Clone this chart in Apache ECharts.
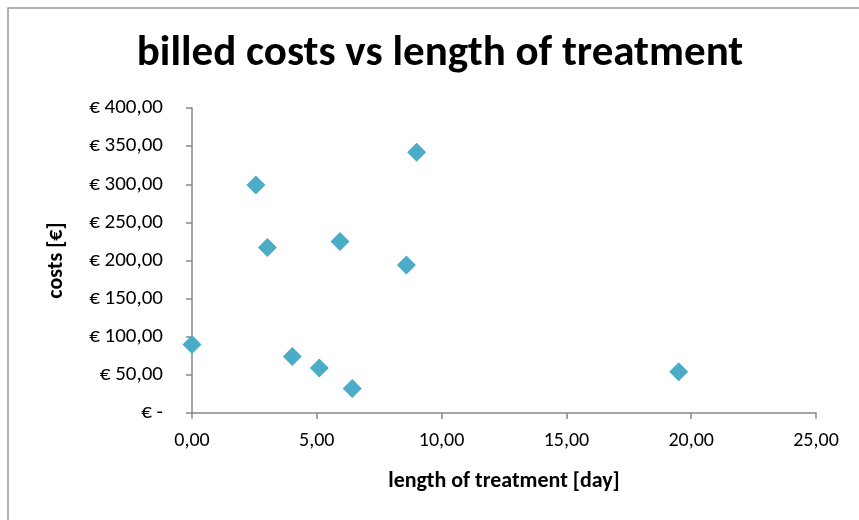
<!DOCTYPE html>
<html>
<head>
<meta charset="utf-8">
<title>billed costs vs length of treatment</title>
<script src="https://cdn.jsdelivr.net/npm/echarts@6/dist/echarts.min.js"></script>
<style>
  html, body { margin: 0; padding: 0; background: #ffffff; }
  #chart { width: 859px; height: 520px; }
</style>
</head>
<body>
<div id="chart"></div>
<script>
// Length of treatment in days, and the billed cost for each case
const treatmentDays = [0.0, 2.56, 3.02, 4.02, 5.10, 6.42, 5.93, 8.59, 9.0, 19.5];
const billedCosts   = [90, 299, 217, 74, 59, 32, 225, 194, 342, 54];

// Axis ranges and tick steps
const xTicks = { min: 0, max: 25, step: 5 };
const yTicks = { min: 0, max: 400, step: 50 };

const FONT = "Carlito, Calibri, Lato, 'Liberation Sans', sans-serif";
const AXIS_GREY = '#878787';

const fmtComma = v => v.toFixed(2).replace('.', ',');

const chart = echarts.init(document.getElementById('chart'), null, { renderer: 'canvas' });

chart.setOption({
  animation: false,
  backgroundColor: '#ffffff',
  textStyle: { fontFamily: FONT },
  grid: { left: 192, right: 43, top: 108, bottom: 107, containLabel: false },
  graphic: [
    {
      type: 'rect',
      shape: { x: 8, y: 8, width: 900, height: 560 },
      style: { fill: 'none', stroke: '#9a9a9a', lineWidth: 1.5 },
      silent: true
    },
    {
      type: 'text',
      x: 440, y: 54,
      style: {
        text: 'billed costs vs length of treatment',
        font: "bold 43px " + FONT,
        fill: '#000000',
        align: 'center',
        verticalAlign: 'middle'
      }
    }
  ],
  xAxis: {
    type: 'value',
    min: xTicks.min, max: xTicks.max, interval: xTicks.step,
    name: 'length of treatment [day]',
    nameLocation: 'middle',
    nameGap: 57,
    nameTextStyle: { fontFamily: FONT, fontWeight: 'bold', fontSize: 22, color: '#000' },
    axisLine: { show: true, onZero: false, lineStyle: { color: AXIS_GREY, width: 1.5 } },
    axisTick: { show: true, inside: false, length: 6, lineStyle: { color: AXIS_GREY, width: 1.5 } },
    axisLabel: { margin: 18, fontFamily: FONT, fontSize: 20, color: '#000', formatter: fmtComma },
    splitLine: { show: false }
  },
  yAxis: {
    type: 'value',
    min: yTicks.min, max: yTicks.max, interval: yTicks.step,
    name: 'costs [€]',
    nameLocation: 'middle',
    nameGap: 125,
    nameTextStyle: { fontFamily: FONT, fontWeight: 'bold', fontSize: 22, color: '#000' },
    axisLine: { show: true, onZero: false, lineStyle: { color: AXIS_GREY, width: 1.5 } },
    axisTick: { show: true, inside: false, length: 6, lineStyle: { color: AXIS_GREY, width: 1.5 } },
    axisLabel: {
      margin: 29, fontFamily: FONT, fontSize: 21, color: '#000',
      formatter: v => v === 0 ? '€ -' : '€ ' + fmtComma(v)
    },
    splitLine: { show: false }
  },
  series: [{
    type: 'scatter',
    data: treatmentDays.map((d, i) => [d, billedCosts[i]]),
    symbol: 'diamond',
    symbolSize: [19, 19],
    itemStyle: { color: '#4aacc6', opacity: 1 },
    clip: false
  }]
});
</script>
</body>
</html>
